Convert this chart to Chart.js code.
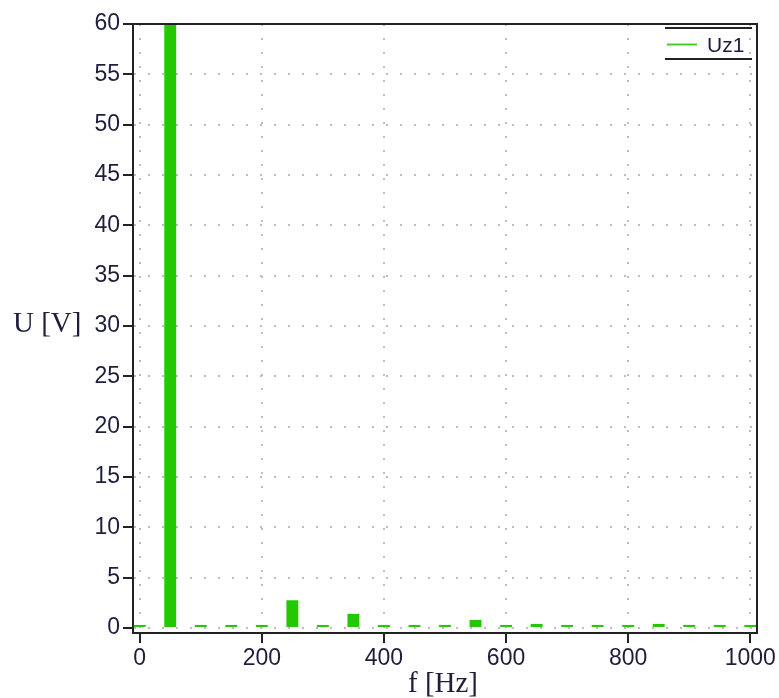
<!DOCTYPE html>
<html>
<head>
<meta charset="utf-8">
<script src="https://cdn.jsdelivr.net/npm/chart.js@4"></script>
<style>
  html, body { margin: 0; padding: 0; background: #fff; }
  canvas { display: block; }
</style>
</head>
<body>
<canvas id="spectrum" width="779" height="698"></canvas>
<script>
// harmonic spectrum, every 50 Hz
const freqs = [0, 50, 100, 150, 200, 250, 300, 350, 400, 450, 500,
               550, 600, 650, 700, 750, 800, 850, 900, 950, 1000];
const uz1   = [0.3, 65, 0.3, 0.3, 0.3, 2.75, 0.3, 1.4, 0.3, 0.3, 0.3,
               0.8, 0.3, 0.4, 0.3, 0.3, 0.3, 0.4, 0.3, 0.3, 0.3];
const xTickValues = [0, 200, 400, 600, 800, 1000];
const yTickValues = [0, 5, 10, 15, 20, 25, 30, 35, 40, 45, 50, 55, 60];
const seriesName = 'Uz1';
const xTitle = 'f [Hz]';
const yTitle = 'U [V]';

const green = '#24c800';
const ink = '#1e1e3c';
const tickFont = { family: '"Liberation Sans", Arial, sans-serif', size: 23 };

// frame, axis titles and the little legend
const decorations = {
    id: 'decorations',
    afterDraw(chart) {
        const ctx = chart.ctx;
        const a = chart.chartArea;
        ctx.save();

        // top + right frame lines
        ctx.strokeStyle = '#222';
        ctx.lineWidth = 2;
        ctx.beginPath();
        ctx.moveTo(a.left - 1, a.top);
        ctx.lineTo(a.right, a.top);
        ctx.lineTo(a.right, a.bottom + 1);
        ctx.stroke();

        // axis titles (serif, y title not rotated)
        ctx.fillStyle = ink;
        ctx.font = '29px "Liberation Serif", "Times New Roman", serif';
        ctx.textAlign = 'left';
        ctx.textBaseline = 'middle';
        ctx.fillText(yTitle, 13, 324);
        ctx.textAlign = 'center';
        ctx.textBaseline = 'alphabetic';
        ctx.fillText(xTitle, (a.left + a.right) / 2 - 2, 692);

        // legend
        const lx = a.right - 92, rx = a.right - 5;
        ctx.strokeStyle = '#222';
        ctx.lineWidth = 2;
        ctx.beginPath();
        ctx.moveTo(lx, a.top + 4);
        ctx.lineTo(rx, a.top + 4);
        ctx.moveTo(lx, a.top + 35);
        ctx.lineTo(rx, a.top + 35);
        ctx.stroke();
        ctx.strokeStyle = '#44d022';
        ctx.beginPath();
        ctx.moveTo(lx + 2, a.top + 20.5);
        ctx.lineTo(lx + 32, a.top + 20.5);
        ctx.stroke();
        ctx.fillStyle = ink;
        ctx.font = '21px "Liberation Sans", Arial, sans-serif';
        ctx.textAlign = 'left';
        ctx.textBaseline = 'middle';
        ctx.fillText(seriesName, lx + 42, a.top + 22);

        ctx.restore();
    }
};

const gridOpts = {
    offset: false,
    color: '#bdbdbd',
    lineWidth: 2,
    tickColor: '#222',
    tickWidth: 2,
    tickLength: 10,
    tickBorderDash: []
};

new Chart(document.getElementById('spectrum'), {
    type: 'bar',
    data: {
        datasets: [{
            label: seriesName,
            data: freqs.map((f, i) => ({ x: f, y: uz1[i] })),
            backgroundColor: green,
            borderWidth: 0,
            barPercentage: 0.39,
            categoryPercentage: 1
        }]
    },
    options: {
        responsive: false,
        animation: false,
        layout: { padding: { left: 0, top: 24, right: 22, bottom: 0 } },
        plugins: {
            legend: { display: false },
            tooltip: { enabled: false }
        },
        scales: {
            x: {
                type: 'linear',
                min: -11,
                max: 1011,
                offset: false,
                afterFit: s => { s.height = 65; },
                afterBuildTicks: s => { s.ticks = xTickValues.map(v => ({ value: v })); },
                ticks: {
                    maxRotation: 0,
                    autoSkip: false,
                    padding: 2,
                    color: ink,
                    font: tickFont,
                    callback: v => String(v)
                },
                grid: gridOpts,
                border: { display: true, color: '#222', width: 2, dash: [2, 12] }
            },
            y: {
                min: -0.5,
                max: 60,
                afterFit: s => { s.width = 133; },
                afterBuildTicks: s => { s.ticks = yTickValues.map(v => ({ value: v })); },
                ticks: {
                    autoSkip: false,
                    padding: 3,
                    color: ink,
                    font: tickFont,
                    callback: v => String(v)
                },
                grid: gridOpts,
                border: { display: true, color: '#222', width: 2, dash: [2, 12] }
            }
        }
    },
    plugins: [decorations]
});
</script>
</body>
</html>
